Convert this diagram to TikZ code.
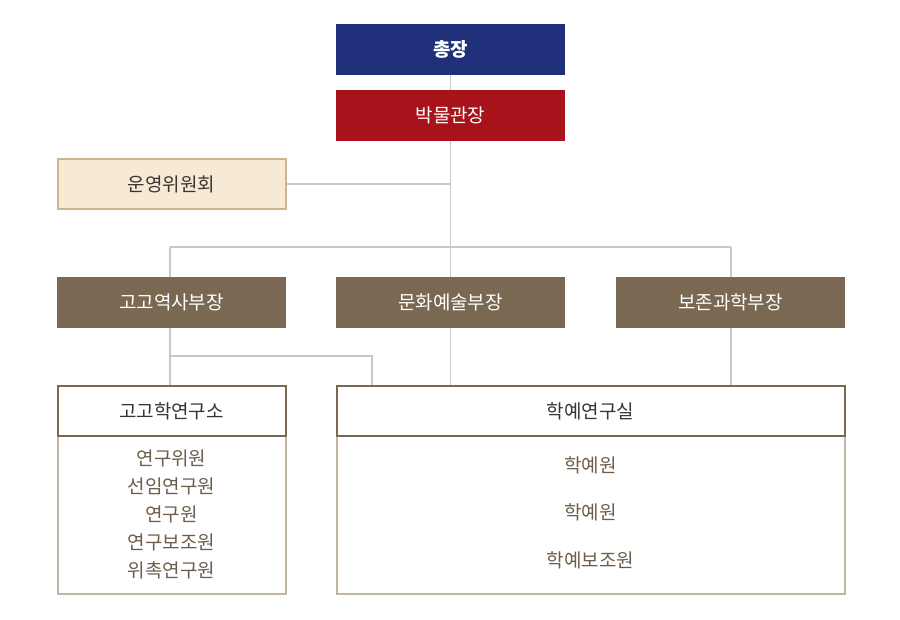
\documentclass[tikz,border=0pt]{standalone}
\usepackage{fontspec}
\setmainfont{Noto Sans CJK KR}
\definecolor{navy}{HTML}{1F2F7A}
\definecolor{museumred}{HTML}{A8121A}
\definecolor{beigefill}{HTML}{F7EAD5}
\definecolor{beigeline}{HTML}{CDB594}
\definecolor{deptbrown}{HTML}{7A6852}
\definecolor{bodyline}{HTML}{C2B6A6}
\definecolor{connector}{HTML}{C8C8C8}
\definecolor{headtext}{HTML}{3A3530}
\definecolor{bodytext}{HTML}{6E5D4B}
\tikzset{
  box/.style={rectangle, inner sep=0pt, outer sep=0pt, minimum width=229pt, minimum height=51pt, font=\fontsize{19}{22}\selectfont},
  chiefbox/.style={box, fill=navy, text=white, font=\fontsize{19}{22}\selectfont\bfseries},
  dirbox/.style={box, fill=museumred, text=white},
  commbox/.style={box, fill=beigefill, draw=beigeline, line width=2pt, text=headtext, minimum width=228pt, minimum height=50pt},
  deptbox/.style={box, fill=deptbrown, text=white},
  headbox/.style={box, fill=white, draw=deptbrown, line width=2pt, text=headtext, minimum height=50pt},
  bodybox/.style={box, fill=white, draw=bodyline, line width=2pt, text=bodytext},
  conn/.style={draw=connector, line width=1.5pt},
  item/.style={text=bodytext, font=\fontsize{19}{22}\selectfont, inner sep=0pt}
}
\begin{document}
\begin{tikzpicture}[x=1pt,y=-1pt]
\useasboundingbox (0,0) rectangle (900,620);
% connectors
\coordinate (busL) at (170,247);
\coordinate (busR) at (731,247);
\coordinate (jn) at (372,356);
\draw[conn] (450.5,75) -- (450.5,90);
\draw[conn] (450.5,141) -- (450.5,247);
\draw[conn] (286,184) -- (450.5,184);
\draw[conn] (busL) -- (busR);
\draw[conn] (busL) -- (170,277);
\draw[conn] (busR) -- (731,277);
\draw[conn] (450.5,247) -- (450.5,277);
\draw[conn] (170,328) -- (170,386);
\draw[conn] (170,356) -- (jn) -- (372,386);
\draw[conn] (450.5,328) -- (450.5,386);
\draw[conn] (731,328) -- (731,386);
% top
\node[chiefbox] (chief) at (450.5,49.5) {총장};
\node[dirbox] (dir) at (450.5,115.5) {박물관장};
\node[commbox] (comm) at (171.5,184) {운영위원회};
% departments
\node[deptbox] (d1) at (171.5,302.5) {고고역사부장};
\node[deptbox] (d2) at (450.5,302.5) {문화예술부장};
\node[deptbox] (d3) at (730.5,302.5) {보존과학부장};
% archaeology institute
\node[bodybox, minimum width=228pt, minimum height=158pt] (labbody) at (171.5,515) {};
\node[headbox, minimum width=228pt] (lab) at (171.5,411) {고고학연구소};
\node[item] (l1) at (171.5,458) {연구위원};
\node[item] (l2) at (171.5,486) {선임연구원};
\node[item] (l3) at (171.5,514) {연구원};
\node[item] (l4) at (171.5,542) {연구보조원};
\node[item] (l5) at (171.5,570) {위촉연구원};
% curatorial office
\node[bodybox, minimum width=508pt, minimum height=158pt] (curbody) at (590.5,515) {};
\node[headbox, minimum width=508pt] (cur) at (590.5,411) {학예연구실};
\node[item] (c1) at (590.5,465) {학예원};
\node[item] (c2) at (590.5,512) {학예원};
\node[item] (c3) at (590.5,560) {학예보조원};
\end{tikzpicture}
\end{document}
